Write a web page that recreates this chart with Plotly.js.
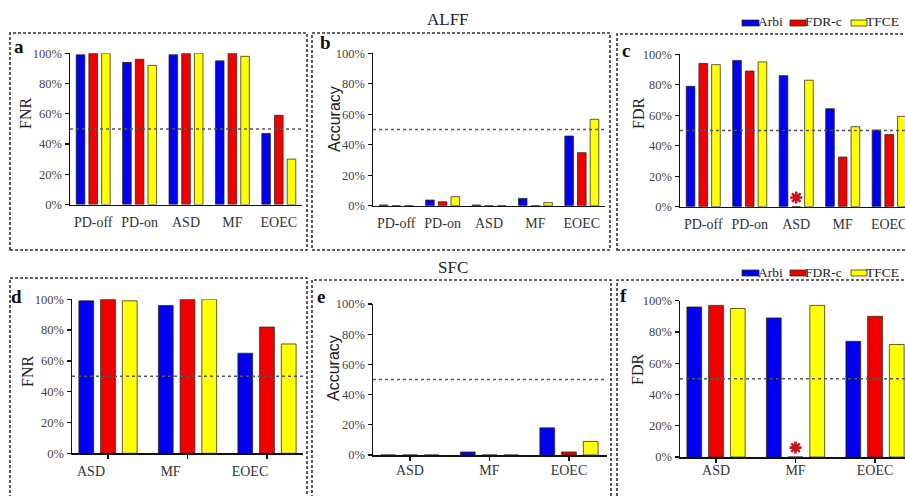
<!DOCTYPE html>
<html><head><meta charset="utf-8">
<script src="https://cdn.plot.ly/plotly-3.0.1.min.js"></script>
<style>html,body{margin:0;padding:0;background:#fff}#chart{width:905px;height:496px}</style>
</head><body><div id="chart"></div>
<script>
// ---- data ----
const seriesNames = ['Arbi', 'FDR-c', 'TFCE'];
const seriesColors = ['#0000f2', '#f20000', '#ffff00'];

const catsRow1 = ['PD-off', 'PD-on', 'ASD', 'MF', 'EOEC'];
const catsRow2 = ['ASD', 'MF', 'EOEC'];

// a: ALFF - FNR
const aArbi = [99, 94, 99, 95, 47];
const aFDRc = [100, 96, 100, 100, 59];
const aTFCE = [100, 92, 100, 98, 30];
// b: ALFF - Accuracy
const bArbi = [0.5, 3.7, 0.5, 4.8, 45.7];
const bFDRc = [0, 2.6, 0, 0, 34.8];
const bTFCE = [0, 5.9, 0, 2, 56.7];
// c: ALFF - FDR
const cArbi = [79, 96, 86, 64.3, 50.3];
const cFDRc = [94, 89, 0, 32.6, 47.3];
const cTFCE = [93.2, 95, 83, 52.5, 59.3];
// d: SFC - FNR
const dArbi = [99, 96, 65];
const dFDRc = [100, 100, 82];
const dTFCE = [99, 100, 71];
// e: SFC - Accuracy
const eArbi = [0, 2, 18];
const eFDRc = [0, 0, 2];
const eTFCE = [0, 0, 9];
// f: SFC - FDR
const fArbi = [96, 89, 74];
const fFDRc = [97, 0, 90];
const fTFCE = [95, 97, 72];

// asterisks (FDR-c with no detections)
const starCCats = ['ASD'];  const starCVals = [6];
const starFCats = ['MF'];   const starFVals = [6];

const yTickVals = [0, 20, 40, 60, 80, 100];
const yTickText = ['0%', '20%', '40%', '60%', '80%', '100%'];
const refLevel = 50;

const panelLetters = ['a', 'b', 'c', 'd', 'e', 'f'];
const yTitles = ['FNR', 'Accuracy', 'FDR', 'FNR', 'Accuracy', 'FDR'];
const rowTitles = ['ALFF', 'SFC'];

// ---- layout helpers ----
const W = 905, H = 496;
const px = v => v / W;
const py = v => 1 - v / H;

const panels = [
  {cats: catsRow1, vals: [aArbi, aFDRc, aTFCE], x: [70, 302], y: [53.3, 204.5], xr: [-0.5, 4.5], so: 4, tt: [25, 114]},
  {cats: catsRow1, vals: [bArbi, bFDRc, bTFCE], x: [373, 605], y: [53.3, 205.7], xr: [-0.5, 4.5], so: 4, tt: [334, 119]},
  {cats: catsRow1, vals: [cArbi, cFDRc, cTFCE], x: [680, 905], y: [54.3, 206.7], xr: [-0.5, 4.34], so: 4, tt: [638, 114]},
  {cats: catsRow2, vals: [dArbi, dFDRc, dTFCE], x: [72, 303], y: [299.3, 453.3], xr: [-0.453, 2.453], so: 0, shift: -17, tt: [27, 372]},
  {cats: catsRow2, vals: [eArbi, eFDRc, eTFCE], x: [373, 607], y: [304, 455], xr: [-0.465, 2.478], so: -2, tt: [333, 368]},
  {cats: catsRow2, vals: [fArbi, fFDRc, fTFCE], x: [680, 905], y: [300.7, 457], xr: [-0.453, 2.377], so: -4, tt: [637, 370]}
];

const serif = 'Liberation Serif';
const sans = 'Liberation Sans';

const traces = [];
const layout = {
  width: W, height: H,
  margin: {l: 0, r: 0, t: 0, b: 0},
  paper_bgcolor: '#fff', plot_bgcolor: '#fff',
  font: {family: serif, color: '#333'},
  showlegend: false,
  barmode: 'group', bargap: 0.18, bargroupgap: 0.32,
  shapes: [], annotations: []
};

panels.forEach((p, i) => {
  const n = i + 1;
  const xa = n === 1 ? 'x' : 'x' + n;
  const ya = n === 1 ? 'y' : 'y' + n;
  seriesNames.forEach((name, s) => {
    traces.push({
      type: 'bar', name: name, x: p.cats, y: p.vals[s],
      xaxis: xa, yaxis: ya,
      marker: {color: seriesColors[s], line: {color: 'rgba(40,40,20,0.75)', width: 1}},
      hoverinfo: 'x+y+name'
    });
  });
  const row2 = i >= 3;
  layout['xaxis' + (n === 1 ? '' : n)] = {
    domain: [px(p.x[0]), px(p.x[1])], anchor: ya, type: 'category',
    range: p.xr, showline: true, linecolor: '#111', linewidth: 1.5,
    ticks: row2 ? 'outside' : '', ticklen: 4, tickwidth: 1.3, tickcolor: '#111',
    tickfont: {family: serif, size: 14, color: '#333'},
    ticklabelshift: p.shift || 0, ticklabelstandoff: p.so,
    showgrid: false, zeroline: false, fixedrange: true
  };
  layout['yaxis' + (n === 1 ? '' : n)] = {
    domain: [py(p.y[1]), py(p.y[0])], anchor: xa, range: [0, 100],
    tickvals: yTickVals, ticktext: yTickText,
    showline: true, linecolor: '#111', linewidth: 1.5,
    ticks: 'outside', ticklen: 4, tickwidth: 1.3, tickcolor: '#111',
    tickfont: {family: serif, size: 12.5, color: '#444'},
    showgrid: false, zeroline: false, fixedrange: true
  };
  // y-axis title (placed as rotated annotation to match the original offset)
  layout.annotations.push({xref: 'paper', yref: 'paper', x: px(p.tt[0]), y: py(p.tt[1]),
    text: yTitles[i], textangle: -90, showarrow: false, xanchor: 'center', yanchor: 'middle',
    font: {family: yTitles[i] === 'Accuracy' ? sans : serif, size: 16, color: '#222'}});
  // 50% reference line
  layout.shapes.push({type: 'line', xref: xa + ' domain', yref: ya, x0: 0, x1: 1,
    y0: refLevel, y1: refLevel, line: {color: '#555', width: 1.5, dash: 'dot'}, layer: 'above'});
});

// asterisks
const starMarker = {symbol: 'asterisk-open', size: 10, color: '#c8141e', line: {color: '#c8141e', width: 2.6}};
traces.push({type: 'scatter', mode: 'markers', x: starCCats, y: starCVals, xaxis: 'x3', yaxis: 'y3',
  marker: starMarker, hoverinfo: 'skip'});
traces.push({type: 'scatter', mode: 'markers', x: starFCats, y: starFVals, xaxis: 'x6', yaxis: 'y6',
  marker: starMarker, hoverinfo: 'skip'});

// dashed panel boxes
const boxes = [[10, 33, 307, 250], [312, 33, 610, 250], [617, 34, 912, 250],
               [10, 278, 307, 502], [312, 280, 611, 502], [617, 280, 912, 502]];
boxes.forEach(b => layout.shapes.push({type: 'rect', xref: 'paper', yref: 'paper',
  x0: px(b[0]), x1: px(b[2]), y0: py(b[3]), y1: py(b[1]),
  line: {color: '#333', width: 1.6, dash: '3px,2px'}, fillcolor: 'rgba(0,0,0,0)', layer: 'below'}));

// panel letters
const letterPos = [[19, 46], [325, 43], [626, 50], [16, 296], [321, 296], [623, 295]];
panelLetters.forEach((l, i) => layout.annotations.push({xref: 'paper', yref: 'paper',
  x: px(letterPos[i][0]), y: py(letterPos[i][1]), text: '<b>' + l + '</b>', showarrow: false,
  xanchor: 'center', yanchor: 'middle', font: {family: serif, size: 19, color: '#111'}}));

// row titles
const rowTitlePos = [[448, 20], [453, 267]];
rowTitles.forEach((t, i) => layout.annotations.push({xref: 'paper', yref: 'paper',
  x: px(rowTitlePos[i][0]), y: py(rowTitlePos[i][1]), text: t, showarrow: false,
  xanchor: 'center', yanchor: 'middle', font: {family: serif, size: 17, color: '#222'}}));

// legends (one per row)
const legendRowsY = [23, 273];
const swatchX = [[742, 759], [790, 806], [851, 867]];
legendRowsY.forEach(ly => {
  seriesNames.forEach((name, s) => {
    layout.shapes.push({type: 'rect', xref: 'paper', yref: 'paper',
      x0: px(swatchX[s][0]), x1: px(swatchX[s][1]), y0: py(ly + 3), y1: py(ly - 3),
      fillcolor: seriesColors[s], line: {color: 'rgba(40,40,20,0.75)', width: 1}});
    layout.annotations.push({xref: 'paper', yref: 'paper', x: px(swatchX[s][1] - 3), y: py(ly - 1),
      text: name, showarrow: false, xanchor: 'left', yanchor: 'middle',
      font: {family: serif, size: 13.5, color: '#222'}});
  });
});

Plotly.newPlot('chart', traces, layout, {staticPlot: true, displayModeBar: false});
</script>
</body></html>
